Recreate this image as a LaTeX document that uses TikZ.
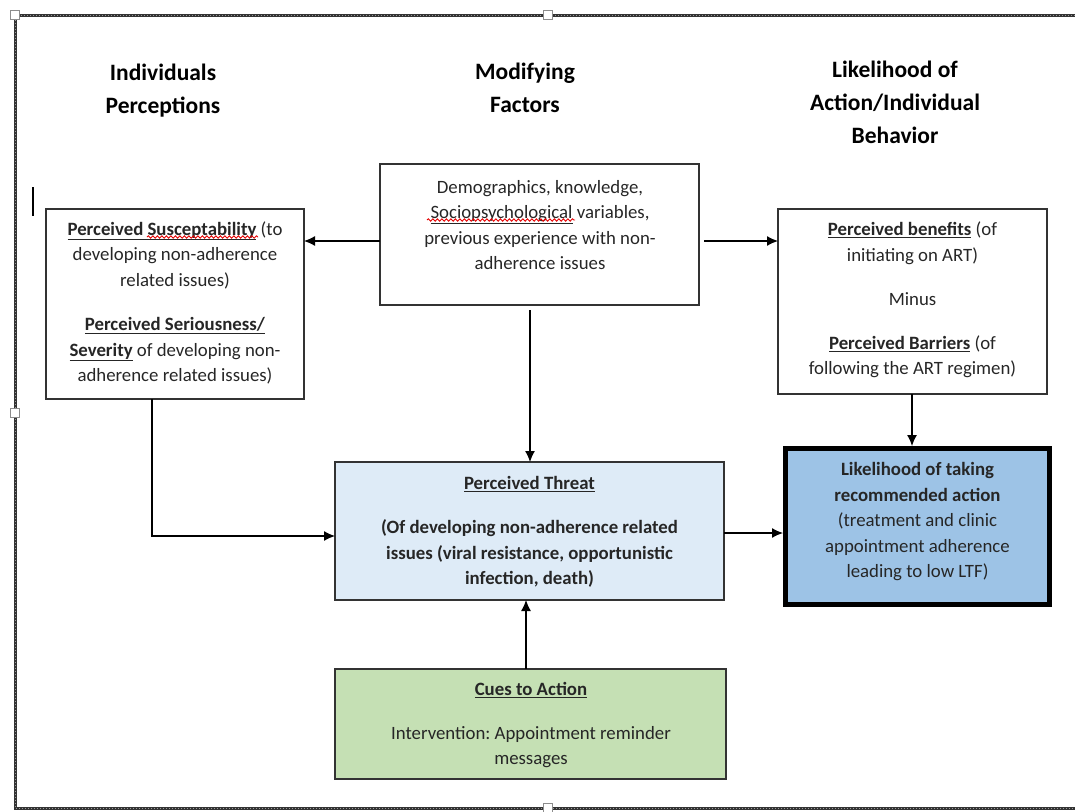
\documentclass[tikz,border=0pt]{standalone}
\usepackage{fontspec}
\setmainfont{Carlito}
\frenchspacing
\usetikzlibrary{arrows.meta,decorations.pathmorphing}
\definecolor{threatfill}{HTML}{DEEBF7}
\definecolor{likefill}{HTML}{9DC3E6}
\definecolor{cuesfill}{HTML}{C5E0B4}
\definecolor{txtcol}{HTML}{262626}
\begin{document}
\begin{tikzpicture}[x=1pt,y=-1pt,
  box/.style={draw=black!80,line width=1.3pt,inner sep=0pt,outer sep=0pt,anchor=north west},
  txt/.style={align=center,text=txtcol,font=\fontsize{18.8}{25.5}\selectfont,inner sep=0pt},
  head/.style={align=center,text=black,font=\bfseries\fontsize{23.5}{33}\selectfont,inner sep=0pt},
  arr/.style={-{Latex[length=11pt,width=10pt]},line width=1.2pt},
  wave/.style={red!90!black,line width=0.9pt,decorate,decoration={snake,amplitude=1.2pt,segment length=4.5pt}},
  frameline/.style={line width=3pt,black!80},
  framedots/.style={line width=0.8pt,white!60!black,dash pattern=on 1pt off 2pt},
  handle/.style={draw=black!45,fill=white,line width=0.8pt,minimum size=9pt,inner sep=0pt}
]
\useasboundingbox (0,0) rectangle (1075,811);

% selection frame
\coordinate (fA) at (15,15);
\coordinate (fB) at (1075,15);
\coordinate (fC) at (15,808);
\coordinate (fD) at (1075,808);
\draw[frameline] (fB) -- (fA) -- (fC) -- (fD);
\draw[framedots] (fB) -- (fA) -- (fC) -- (fD);
\node[handle] (h1) at (15,15) {};
\node[handle] (h2) at (548,15) {};
\node[handle] (h3) at (15,413) {};
\node[handle] (h4) at (548,808) {};

% cursor
\coordinate (cur1) at (33,187);
\coordinate (cur2) at (33,216);
\draw[line width=1.3pt,black] (cur1) -- (cur2);

% headings
\node[head] (h-ind) at (163,91) {Individuals\\Perceptions};
\node[head] (h-mod) at (525,88) {Modifying\\Factors};
\node[head] (h-lik) at (895,102) {Likelihood of\\Action/Individual\\Behavior};

% boxes
\node[box,minimum width=258pt,minimum height=190pt] (left) at (46,209) {};
\node[box,minimum width=319pt,minimum height=141pt] (mod) at (380,164) {};
\node[box,minimum width=269pt,minimum height=185pt] (right) at (778,209) {};
\node[box,fill=threatfill,minimum width=389pt,minimum height=138pt] (threat) at (335,462) {};
\node[box,draw=black,line width=5pt,fill=likefill,minimum width=264pt,minimum height=156pt,outer sep=2.5pt] (like) at (783,446) {};
\node[box,fill=cuesfill,minimum width=391pt,minimum height=110pt] (cues) at (335,669) {};

% texts
\node[txt] (t-left) at (175,303) {\underline{\textbf{Perceived Susceptability}} (to\\developing non-adherence\\related issues)\\[19pt]\underline{\textbf{Perceived Seriousness/}}\\\underline{\textbf{Severity}} of developing non-\\adherence related issues)};
\node[txt] (t-mod) at (540,225) {Demographics, knowledge,\\\underline{Sociopsychological} variables,\\previous experience with non-\\adherence issues};
\node[txt] (t-right) at (912.5,300) {\underline{\textbf{Perceived benefits}} (of\\initiating on ART)\\[18.5pt]Minus\\[18.5pt]\underline{\textbf{Perceived Barriers}} (of\\following the ART regimen)};
\node[txt,font=\bfseries\fontsize{18.8}{25.5}\selectfont] (t-threat) at (529.5,532) {\underline{Perceived Threat}\\[18.5pt](Of developing non-adherence related\\issues (viral resistance, opportunistic\\infection, death)};
\node[txt] (t-like) at (917.5,522) {\textbf{Likelihood of taking}\\\textbf{recommended action}\\(treatment and clinic\\appointment adherence\\leading to low LTF)};
\node[txt] (t-cues) at (531,725) {\underline{\textbf{Cues to Action}}\\[18.5pt]Intervention: Appointment reminder\\messages};

% spell-check marks
\coordinate (w1a) at (147,237);
\coordinate (w1b) at (258,237);
\coordinate (w2a) at (427,220);
\coordinate (w2b) at (575,220);
\draw[wave] (w1a) -- (w1b);
\draw[wave] (w2a) -- (w2b);

% connectors
\draw[arr] (mod.west |- 0,241) -- (left.east |- 0,241);
\draw[arr,shorten <=5pt] (mod.east |- 0,241) -- (right.west |- 0,241);
\draw[arr,shorten <=5pt] (mod.south -| 530,0) -- (threat.north -| 530,0);
\draw[arr] (left.south -| 152,0) |- (threat.west |- 0,536);
\draw[arr] (threat.east |- 0,533) -- (like.west |- 0,533);
\draw[arr] (right.south -| 912,0) -- (like.north -| 912,0);
\draw[arr] (cues.north -| 526,0) -- (threat.south -| 526,0);
\end{tikzpicture}
\end{document}
